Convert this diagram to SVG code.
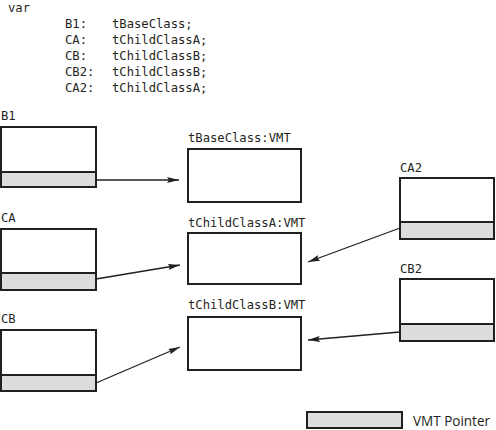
<svg xmlns="http://www.w3.org/2000/svg" width="496" height="430" viewBox="0 0 496 430">
<style>
.mono{font-family:"DejaVu Sans Mono","Liberation Mono",monospace;font-size:12.2px;fill:#231f20}
.sans{font-family:"Open Sans","Liberation Sans",sans-serif;font-size:14.5px;fill:#231f20}
.box{fill:#fff;stroke:#231f20;stroke-width:2}
.ptr{fill:#dcdddd;stroke:#231f20;stroke-width:2}
.conn{stroke:#231f20;stroke-width:1.3;fill:none;marker-end:url(#ah)}
</style>
<defs>
<marker id="ah" viewBox="0 0 12 6" refX="12" refY="3" markerWidth="12" markerHeight="6" markerUnits="userSpaceOnUse" orient="auto">
<path d="M0,0 L12,3 L0,6 L2,3 Z" fill="#231f20"/>
</marker>
</defs>
<rect width="496" height="430" fill="#fff"/>
<g id="code">
<text class="mono" x="8" y="12">var</text>
<text class="mono" x="65" y="28">B1:</text><text class="mono" x="112" y="28">tBaseClass;</text>
<text class="mono" x="65" y="44">CA:</text><text class="mono" x="112" y="44">tChildClassA;</text>
<text class="mono" x="65" y="60">CB:</text><text class="mono" x="112" y="60">tChildClassB;</text>
<text class="mono" x="65" y="76">CB2:</text><text class="mono" x="112" y="76">tChildClassB;</text>
<text class="mono" x="65" y="92">CA2:</text><text class="mono" x="112" y="92">tChildClassA;</text>
</g>
<g id="B1">
<text class="mono" x="1" y="120">B1</text>
<rect class="box" x="1" y="127" width="95" height="60"/>
<rect class="ptr" x="1" y="172" width="95" height="15"/>
</g>
<g id="CA">
<text class="mono" x="1" y="222">CA</text>
<rect class="box" x="1" y="229" width="95" height="61"/>
<rect class="ptr" x="1" y="273" width="95" height="17"/>
</g>
<g id="CB">
<text class="mono" x="1" y="323">CB</text>
<rect class="box" x="1" y="330" width="95" height="61"/>
<rect class="ptr" x="1" y="375" width="95" height="16"/>
</g>
<g id="VMTBase">
<text class="mono" x="188" y="142">tBaseClass:VMT</text>
<rect class="box" x="188" y="149" width="113" height="53"/>
</g>
<g id="VMTA">
<text class="mono" x="188" y="227">tChildClassA:VMT</text>
<rect class="box" x="188" y="233" width="113" height="51"/>
</g>
<g id="VMTB">
<text class="mono" x="188" y="309">tChildClassB:VMT</text>
<rect class="box" x="188" y="317" width="113" height="53"/>
</g>
<g id="CA2">
<text class="mono" x="400" y="172">CA2</text>
<rect class="box" x="400" y="178" width="94" height="61"/>
<rect class="ptr" x="400" y="222" width="94" height="17"/>
</g>
<g id="CB2">
<text class="mono" x="400" y="273">CB2</text>
<rect class="box" x="400" y="279" width="94" height="62"/>
<rect class="ptr" x="400" y="324" width="94" height="17"/>
</g>
<g id="connectors">
<line class="conn" x1="96" y1="180" x2="179" y2="180"/>
<line class="conn" x1="96" y1="279" x2="180" y2="265"/>
<line class="conn" x1="96" y1="383" x2="180" y2="347"/>
<line class="conn" x1="400" y1="228" x2="308" y2="262"/>
<line class="conn" x1="400" y1="332" x2="308" y2="340"/>
</g>
<g id="legend">
<rect class="ptr" x="307" y="412" width="95" height="16"/>
<text class="sans" x="413" y="426" textLength="77" lengthAdjust="spacingAndGlyphs">VMT Pointer</text>
</g>
</svg>
